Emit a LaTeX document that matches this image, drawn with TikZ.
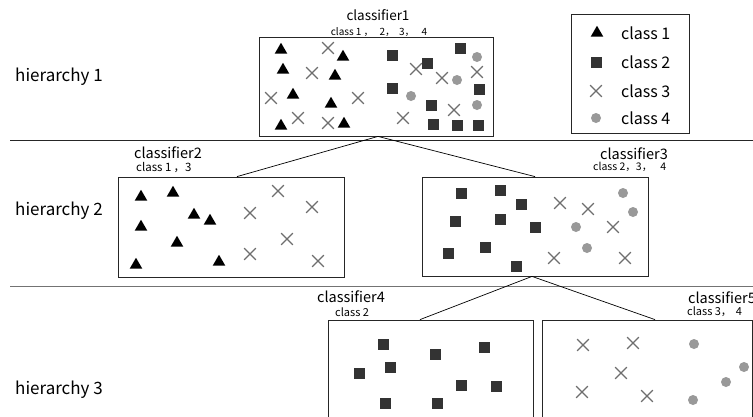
\documentclass[tikz,border=0pt]{standalone}
\usepackage{fontspec}
\setmainfont{Noto Sans CJK JP}
\usetikzlibrary{shapes.geometric,shapes.misc}
\definecolor{sqc}{HTML}{333333}
\definecolor{crc}{HTML}{6E6E6E}
\definecolor{cic}{HTML}{999999}
\begin{document}
\begin{tikzpicture}[x=1pt,y=-1pt,
  tri/.style={regular polygon, regular polygon sides=3, fill=black, inner sep=0pt, minimum size=14.5pt},
  sq/.style={rectangle, fill=sqc, inner sep=0pt, minimum size=11pt},
  crs/.style={cross out, draw=crc, line width=1.2pt, inner sep=0pt, minimum size=10.5pt},
  cir/.style={circle, fill=cic, inner sep=0pt, minimum size=10pt},
  box/.style={draw=black!85, line width=0.8pt, rectangle, inner sep=0pt},
  conn/.style={draw=black, line width=0.7pt},
  sep/.style={line width=0.8pt},
  hier/.style={font=\fontsize{17}{19}\selectfont, anchor=west, inner sep=0pt},
  cname/.style={font=\fontsize{14.5}{16}\selectfont, inner sep=0pt},
  csub/.style={inner sep=0pt},
  leg/.style={font=\fontsize{16}{18}\selectfont, anchor=west, inner sep=0pt}
]
\clip (0,0) rectangle (753,416);
\fill[white] (0,0) rectangle (753,416);

% separators
\draw[sep, black!85] (10,140.5) -- (753,140.5);
\draw[sep, black!55] (10,286) -- (753,286);

% hierarchy labels
\node[hier] (h1) at (15,77) {hierarchy 1};
\node[hier] (h2) at (15,211) {hierarchy 2};
\node[hier] (h3) at (15,390) {hierarchy 3};

% boxes
\node[box, minimum width=234pt, minimum height=99pt] (c1) at (376,86.5) {};
\node[box, minimum width=226pt, minimum height=100pt] (c2) at (231,227) {};
\node[box, minimum width=226pt, minimum height=99pt] (c3) at (535,226.5) {};
\node[box, minimum width=205pt, minimum height=110pt] (c4) at (430.5,375) {};
\node[box, minimum width=210pt, minimum height=110pt] (c5) at (647,375) {};
\node[box, minimum width=118pt, minimum height=119pt] (lg) at (630,73.5) {};

% titles
\node[cname, font=\fontsize{13.5}{15}\selectfont] (t1) at (378,15) {classifier1};
\node[csub, font=\fontsize{10}{12}\selectfont] (s1) at (379,32) {class 1\hspace{2pt}，\hspace{6pt}2，\hspace{4pt}3，\hspace{7pt}4};
\node[cname, anchor=west] (t2) at (134,153) {classifier2};
\node[csub, anchor=west, font=\fontsize{11.5}{13}\selectfont] (s2) at (136,168) {class 1\hspace{2pt}，3};
\node[cname] (t3) at (634,154) {classifier3};
\node[csub, anchor=west, font=\fontsize{10.5}{12}\selectfont] (s3) at (593,167) {class 2，3，\hspace{8pt}4};
\node[cname] (t4) at (351,297) {classifier4};
\node[csub, anchor=west, font=\fontsize{11}{13}\selectfont] (s4) at (335,312) {class 2};
\node[cname, anchor=west] (t5) at (688,298) {classifier5};
\node[csub, anchor=west, font=\fontsize{11}{13}\selectfont] (s5) at (687,312) {class 3，\hspace{4pt}4};

% connectors
\draw[conn] ([xshift=2pt]c1.south) -- ([xshift=6pt]c2.north);
\draw[conn] ([xshift=2pt]c1.south) -- (c3.north);
\draw[conn] ([xshift=-3pt]c3.south) -- ([xshift=-10.5pt]c4.north);
\draw[conn] ([xshift=-3pt]c3.south) -- ([xshift=8pt]c5.north);

% box 1 markers
\foreach \x/\y [count=\i] in {281/50,343/57,283/70,335/76,293/95,331/104,281/126,344/124}
  \node[tri] (a-t\i) at (\x,\y) {};
\foreach \x/\y [count=\i] in {328/48,312/73,271/98,358/98,298/118,328/123,416/69,442/78,477/72,403/118,454/110}
  \node[crs] (a-x\i) at (\x,\y) {};
\foreach \x/\y [count=\i] in {392/55,460/48,427/63,392/88,479/89,431/105,433/124,457/125,478/125}
  \node[sq] (a-s\i) at (\x,\y) {};
\foreach \x/\y [count=\i] in {477/57,457/80,411/96,477/105}
  \node[cir] (a-c\i) at (\x,\y) {};

% box 2 markers
\foreach \x/\y [count=\i] in {141/197,173/193,194/215,210/221,141/227,177/243,136/265,219/262}
  \node[tri] (b-t\i) at (\x,\y) {};
\foreach \x/\y [count=\i] in {278/191,250/213,312/207,287/239,250/254,318/261}
  \node[crs] (b-x\i) at (\x,\y) {};

% box 3 markers
\foreach \x/\y [count=\i] in {461/193,500/190,521/204,455/221,500/219,535/227,448/253,485/247,516/266}
  \node[sq] (c-s\i) at (\x,\y) {};
\foreach \x/\y [count=\i] in {560/203,588/209,613/227,554/258,625/258}
  \node[crs] (c-x\i) at (\x,\y) {};
\foreach \x/\y [count=\i] in {623/193,633/212,576/227,587/248}
  \node[cir] (c-c\i) at (\x,\y) {};

% box 4 markers
\foreach \x/\y [count=\i] in {383/344,435/354,484/347,359/373,390/367,461/385,496/386,385/403,437/403}
  \node[sq] (d-s\i) at (\x,\y) {};

% box 5 markers
\foreach \x/\y [count=\i] in {583/345,633/343,621/373,582/392,647/396}
  \node[crs] (e-x\i) at (\x,\y) {};
\foreach \x/\y [count=\i] in {694/344,744/367,726/382,693/400}
  \node[cir] (e-c\i) at (\x,\y) {};

% legend
\node[tri] (l-t) at (597,33) {};
\node[sq] (l-s) at (596,62) {};
\node[crs] (l-x) at (596,91) {};
\node[cir] (l-c) at (596,118) {};
\node[leg] (l-1) at (621,33) {class 1};
\node[leg] (l-2) at (621,62) {class 2};
\node[leg] (l-3) at (621,91) {class 3};
\node[leg] (l-4) at (621,118) {class 4};
\end{tikzpicture}
\end{document}
